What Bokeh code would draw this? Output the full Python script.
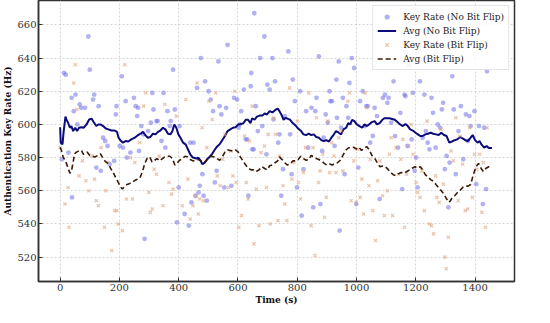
from bokeh.plotting import figure
from bokeh.models import FixedTicker, Legend, LegendItem, Range1d
from bokeh.embed import file_html
from bokeh.resources import INLINE

# Key Rate (No Bit Flip) scatter
nb_t = [6, 13, 19, 28, 39, 40, 46, 52, 58, 66, 71, 84, 95, 100, 111, 115, 122, 130, 137, 145, 152, 160, 167, 182,
        188, 190, 201, 208, 212, 221, 225, 237, 249, 255, 260, 263, 266, 274, 280, 285, 297, 306, 311, 315, 325, 329,
        342, 349, 355, 362, 370, 373, 381, 387, 394, 400, 403, 420, 434, 439, 443, 450, 457, 462, 467, 471, 475, 480,
        484, 489, 495, 501, 508, 516, 522, 528, 534, 538, 544, 554, 560, 565, 578, 587, 597, 602, 606, 611, 620, 626,
        631, 635, 643, 645, 648, 653, 655, 660, 667, 675, 682, 689, 696, 699, 707, 716, 720, 725, 736, 740, 746, 752,
        758, 770, 776, 781, 785, 792, 799, 810, 815, 821, 830, 837, 848, 854, 861, 865, 873, 878, 884, 889, 896, 903,
        909, 912, 917, 926, 932, 934, 940, 943, 948, 954, 960, 966, 972, 976, 984, 992, 999, 1006, 1012, 1021, 1028,
        1033, 1038, 1046, 1055, 1061, 1069, 1078, 1089, 1096, 1104, 1108, 1117, 1125, 1130, 1140, 1148, 1154, 1162,
        1165, 1172, 1178, 1186, 1190, 1196, 1201, 1206, 1214, 1223, 1229, 1234, 1240, 1246, 1253, 1258, 1267, 1274,
        1282, 1288, 1292, 1298, 1304, 1310, 1314, 1323, 1328, 1335, 1344, 1352, 1360, 1369, 1376, 1381, 1385, 1398,
        1404, 1413, 1426, 1431, 1437, 1440]
nb_v = [579, 631, 630, 583, 616, 556, 608, 618, 600, 612, 610, 610, 653, 633, 615, 618, 574, 611, 572, 592, 590, 587,
        576, 578, 606, 611, 587, 629, 586, 614, 580, 583, 616, 611, 605, 610, 584, 599, 594, 531, 596, 601, 619, 609,
        602, 602, 590, 619, 586, 608, 599, 602, 633, 609, 541, 562, 599, 546, 539, 589, 553, 589, 557, 622, 559, 563,
        640, 570, 557, 626, 554, 620, 615, 608, 565, 572, 638, 611, 606, 562, 610, 648, 563, 616, 615, 598, 600, 608,
        621, 591, 591, 557, 623, 631, 585, 585, 667, 611, 596, 640, 599, 653, 582, 624, 621, 640, 603, 626, 589, 594,
        557, 573, 605, 644, 594, 570, 627, 614, 562, 620, 545, 573, 608, 586, 610, 550, 608, 616, 641, 552, 584, 592,
        606, 601, 620, 614, 614, 587, 627, 604, 638, 536, 598, 616, 570, 611, 604, 625, 640, 634, 552, 574, 614, 620,
        599, 611, 611, 589, 593, 610, 605, 555, 616, 618, 613, 616, 601, 626, 593, 586, 607, 561, 618, 617, 587, 636,
        591, 619, 572, 580, 562, 626, 592, 618, 596, 589, 585, 616, 607, 586, 600, 598, 609, 613, 573, 581, 550, 577,
        629, 609, 570, 596, 611, 579, 606, 590, 605, 599, 608, 564, 599, 552, 598, 561, 632]

# Key Rate (Bit Flip) scatter
bf_t = [0, 16, 27, 30, 46, 51, 57, 64, 75, 87, 97, 107, 116, 122, 129, 138, 150, 154, 162, 174, 184, 191, 196, 210,
        218, 224, 237, 244, 252, 268, 282, 289, 299, 304, 311, 317, 325, 334, 347, 353, 367, 376, 381, 392, 412, 424,
        431, 439, 448, 456, 462, 466, 471, 479, 484, 495, 502, 513, 525, 530, 540, 549, 556, 568, 576, 583, 589, 594,
        603, 612, 622, 628, 634, 639, 648, 654, 662, 671, 678, 689, 696, 702, 709, 720, 727, 735, 740, 752, 758, 765,
        774, 782, 789, 800, 804, 811, 821, 828, 839, 847, 853, 860, 865, 872, 877, 886, 892, 898, 903, 909, 916, 924,
        931, 940, 948, 954, 971, 976, 982, 991, 999, 1004, 1012, 1018, 1024, 1029, 1035, 1042, 1046, 1055, 1064, 1071,
        1079, 1088, 1094, 1104, 1111, 1117, 1122, 1133, 1142, 1150, 1156, 1162, 1169, 1176, 1184, 1191, 1201, 1206,
        1214, 1221, 1229, 1238, 1246, 1253, 1260, 1267, 1271, 1279, 1285, 1293, 1298, 1303, 1310, 1319, 1327, 1335,
        1343, 1349, 1358, 1367, 1375, 1382, 1391, 1398, 1406, 1415, 1423, 1428, 1435, 1440]
bf_v = [586, 552, 562, 538, 625, 636, 609, 569, 578, 566, 560, 581, 567, 554, 551, 586, 538, 560, 577, 524, 548, 548,
        540, 536, 636, 555, 580, 555, 577, 589, 611, 619, 559, 547, 549, 573, 570, 581, 551, 612, 565, 558, 561, 605,
        551, 615, 567, 543, 551, 557, 625, 546, 555, 598, 554, 586, 614, 603, 619, 569, 563, 579, 594, 562, 584, 569,
        620, 565, 538, 545, 593, 565, 555, 590, 611, 528, 561, 539, 583, 587, 562, 594, 540, 604, 594, 542, 581, 563,
        552, 542, 622, 567, 577, 602, 565, 555, 571, 586, 619, 539, 586, 521, 604, 565, 572, 582, 544, 556, 602, 571,
        589, 581, 571, 592, 596, 572, 614, 619, 554, 578, 553, 585, 556, 567, 546, 619, 610, 563, 579, 548, 530, 566,
        578, 557, 545, 560, 582, 592, 545, 586, 570, 579, 591, 538, 570, 587, 600, 582, 565, 559, 556, 572, 548, 602,
        540, 539, 534, 569, 556, 553, 597, 564, 520, 513, 532, 584, 578, 604, 554, 593, 576, 548, 549, 598, 556, 582,
        573, 582, 547, 577, 538, 598]

# Avg (No Bit Flip)
avg_nb_t = [0, 2, 8, 12, 18, 21, 27, 33, 38, 44, 51, 57, 64, 72, 80, 89, 98, 106, 113, 122, 129, 136, 145, 154, 163,
            173, 184, 192, 197, 203, 212, 221, 230, 240, 252, 263, 271, 280, 287, 296, 304, 313, 322, 330, 338, 347,
            355, 364, 372, 379, 385, 392, 399, 406, 415, 424, 431, 439, 448, 460, 466, 473, 480, 488, 495, 504, 513,
            521, 529, 538, 547, 556, 565, 574, 583, 592, 601, 610, 619, 626, 634, 642, 648, 656, 664, 673, 682, 690,
            698, 707, 716, 725, 734, 740, 747, 754, 761, 769, 776, 785, 794, 803, 813, 821, 830, 839, 847, 856, 864,
            873, 881, 889, 898, 907, 915, 922, 931, 940, 948, 956, 965, 972, 979, 985, 993, 1001, 1010, 1019, 1027,
            1035, 1044, 1052, 1061, 1069, 1078, 1087, 1094, 1102, 1111, 1120, 1129, 1138, 1147, 1156, 1165, 1173,
            1181, 1190, 1199, 1207, 1215, 1223, 1232, 1241, 1250, 1259, 1268, 1277, 1286, 1295, 1304, 1313, 1322,
            1331, 1340, 1349, 1358, 1367, 1376, 1385, 1392, 1400, 1408, 1415, 1422, 1431, 1439, 1446, 1457]
avg_nb_v = [598.3, 589, 588, 596, 604.7, 603, 601, 598, 599, 596, 598, 596, 598, 598.3, 598, 600, 603, 603.5, 601.5,
            599, 600, 600, 599, 597.5, 597, 596.3, 596.3, 595.5, 592, 590.5, 589, 590, 589.7, 591, 592, 593.6, 594.4,
            595.5, 593.6, 592, 592.4, 594.4, 594, 595.5, 596.3, 598, 597, 594.4, 594, 596, 600, 598, 594, 592, 589,
            587.8, 585, 582, 580, 579.4, 580, 578.4, 576, 577, 578.8, 580.4, 582.3, 584.6, 586.6, 588, 590.5, 593,
            596, 597, 598, 598.3, 600, 600.2, 600.8, 602.8, 602.8, 600.8, 603.7, 602.8, 604.7, 605.3, 605.3, 606.6,
            606, 608, 607.2, 608.6, 609.6, 608, 605.7, 602.8, 604, 603.3, 602.8, 600.8, 599.4, 597.5, 596, 594,
            593.6, 594.4, 593.6, 594, 592.4, 592, 590.5, 590, 590.5, 589.7, 592, 593.6, 596, 595, 594, 597, 598,
            600.8, 600, 602.8, 602, 600, 599, 598, 600, 599, 600.2, 601.4, 602, 600, 600.8, 602.8, 603.7, 603.7,
            603.7, 603.3, 602.8, 601.4, 600, 599, 600.2, 599, 597, 596.3, 595, 594, 593, 593, 594, 594.4, 595,
            594.4, 594, 593.6, 595, 593.6, 593, 589, 589.7, 590.5, 591, 592.4, 591.6, 590.5, 590, 592, 593.6, 590.5,
            589, 590, 587.8, 586, 587, 585.8, 585.8]

# Avg (Bit Flip)
avg_bf_t = [0, 4, 10, 16, 21, 27, 33, 38, 44, 49, 55, 64, 72, 78, 84, 91, 100, 109, 118, 127, 136, 145, 154, 162,
            170, 179, 188, 197, 203, 210, 218, 226, 235, 244, 253, 262, 269, 278, 285, 293, 302, 310, 319, 327, 336,
            345, 353, 362, 370, 379, 387, 394, 403, 412, 421, 430, 439, 448, 457, 466, 475, 484, 493, 502, 511, 520,
            529, 538, 547, 556, 565, 574, 583, 592, 601, 608, 617, 626, 635, 644, 653, 662, 671, 680, 689, 698, 707,
            716, 725, 734, 740, 749, 758, 767, 776, 785, 794, 803, 812, 821, 830, 839, 847, 856, 864, 873, 882, 891,
            900, 909, 918, 927, 936, 945, 954, 963, 972, 981, 990, 999, 1008, 1017, 1026, 1035, 1044, 1052, 1062,
            1071, 1079, 1088, 1097, 1106, 1115, 1124, 1133, 1142, 1151, 1160, 1170, 1179, 1188, 1197, 1206, 1215,
            1223, 1232, 1241, 1250, 1259, 1268, 1277, 1286, 1295, 1304, 1313, 1322, 1331, 1340, 1349, 1358, 1367,
            1376, 1385, 1394, 1403, 1412, 1420, 1428, 1437, 1446, 1457]
avg_bf_v = [586.2, 584.6, 580.4, 578.4, 576.5, 573.6, 570.6, 571.6, 577.4, 582.3, 583.3, 584, 584.3, 582, 582.3,
            583.3, 581.3, 580.8, 580.4, 581.3, 582.3, 579.4, 577.4, 576.5, 573.6, 571, 567.7, 564.8, 562.5, 561,
            562.8, 563.8, 564.4, 565.2, 566.3, 567.1, 567.7, 571.6, 576.1, 579.4, 580.4, 577.4, 578.4, 579.4, 578,
            579.4, 580.4, 580.8, 580.8, 579.4, 575.5, 576.5, 578.4, 579.4, 580.8, 580.4, 578.8, 578, 578.4, 578.8,
            578, 576.9, 578, 580.4, 580.8, 580.4, 579.4, 578.4, 580.4, 583.3, 584.6, 584.3, 583.9, 584.6, 583.3,
            580.4, 578, 575.5, 573.6, 572.6, 572.6, 571.6, 572.6, 574.5, 573.6, 572.6, 575.1, 575.5, 576.9, 578,
            580.4, 578.8, 576.9, 575.5, 576.1, 578, 578, 578.8, 580.8, 579.4, 578.4, 578.8, 581.3, 580.4, 579.4,
            578.8, 578, 576.5, 575.5, 576.1, 575.5, 576.5, 576.9, 578.4, 581.3, 584.3, 585.8, 586.2, 586.2, 585.2,
            586.2, 584.3, 585.8, 586.6, 584.3, 581.3, 579.4, 576.5, 574.5, 574.9, 574.5, 573, 571, 569.7, 569.1,
            570.3, 571, 570.6, 571.6, 572.6, 573.6, 574.5, 573.6, 574.5, 572.6, 569.7, 568.3, 566.7, 565.8, 563.8,
            561.9, 560, 558, 555, 553, 555.5, 557, 558.8, 560, 562, 562.8, 562.8, 563.8, 569.7, 574.5, 576.5, 573.6,
            571.6, 573.6, 574.5, 575]

x_ticks = [0, 200, 400, 600, 800, 1000, 1200, 1400]
y_ticks = [520, 540, 560, 580, 600, 620, 640, 660]

FONT = "DejaVu Serif"

p = figure(width=534, height=307, output_backend="svg", toolbar_location=None,
           x_range=Range1d(-73, 1533), y_range=Range1d(505.3, 674.7),
           min_border_left=10, min_border_top=0, min_border_right=20, min_border_bottom=10)

p.outline_line_color = "#333333"
p.outline_line_width = 1.5
p.background_fill_color = "white"

for ax in (p.xaxis[0], p.yaxis[0]):
    ax.axis_line_color = "#333333"
    ax.axis_line_width = 1.5
    ax.major_tick_in = 4
    ax.major_tick_out = 0
    ax.major_tick_line_color = "#333333"
    ax.minor_tick_line_color = None
    ax.major_label_text_font = FONT
    ax.major_label_text_font_size = "10px"
    ax.major_label_text_color = "#333333"
    ax.axis_label_text_font = FONT
    ax.axis_label_text_font_size = "9px"
    ax.axis_label_text_font_style = "bold"
    ax.axis_label_text_color = "#111111"
    ax.major_label_standoff = 2
    ax.axis_label_standoff = 1

p.xaxis.ticker = FixedTicker(ticks=x_ticks)
p.yaxis.ticker = FixedTicker(ticks=y_ticks)
p.xaxis.axis_label = "Time (s)"
p.yaxis.axis_label = "Authentication Key Rate (Hz)"

p.grid.grid_line_color = "#cccccc"
p.grid.grid_line_dash = "2 2"
p.grid.grid_line_width = 0.8

r1 = p.scatter(nb_t, nb_v, marker="circle", size=4.8, fill_color="#7373e6", line_color=None, fill_alpha=0.55)
r2 = p.line(avg_nb_t, avg_nb_v, line_color="#0b0b7a", line_width=2)
r3 = p.scatter(bf_t, bf_v, marker="x", size=4.5, line_color="#dca07a", line_alpha=0.6, line_width=1.3)
r4 = p.line(avg_bf_t, avg_bf_v, line_color="#3a1a08", line_width=1.6, line_dash="5 3")

legend = Legend(items=[
    LegendItem(label="Key Rate (No Bit Flip)", renderers=[r1]),
    LegendItem(label="Avg (No Bit Flip)", renderers=[r2]),
    LegendItem(label="Key Rate (Bit Flip)", renderers=[r3]),
    LegendItem(label="Avg (Bit Flip)", renderers=[r4]),
], location="top_right")
legend.label_text_font = FONT
legend.label_text_font_size = "9px"
legend.label_text_color = "#222222"
legend.border_line_color = "#cccccc"
legend.background_fill_alpha = 0.85
legend.spacing = 1
legend.padding = 4
legend.margin = 5
legend.label_height = 13
legend.glyph_height = 13
legend.glyph_width = 19
legend.label_standoff = 7
p.add_layout(legend)

open("out.html", "w").write(file_html(p, INLINE))
